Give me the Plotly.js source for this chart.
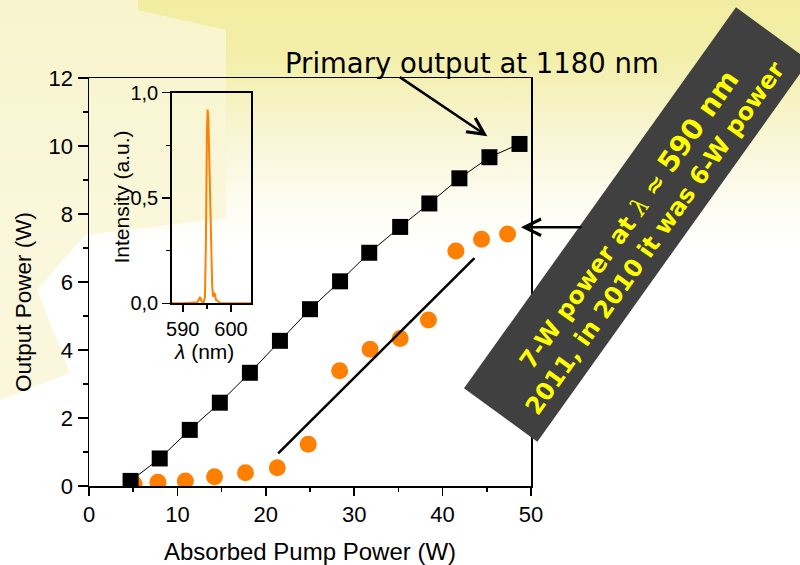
<!DOCTYPE html>
<html>
<head>
<meta charset="utf-8">
<script src="https://cdn.plot.ly/plotly-3.0.1.min.js"></script>
<style>
  html, body { margin: 0; padding: 0; }
  body {
    width: 800px; height: 565px; overflow: hidden;
    background: linear-gradient(to bottom, #f2eda0 0px, #f3efab 60px, #f8f5d2 130px, #fdfcf0 200px, #ffffff 250px, #ffffff 565px);
  }
  #chart { width: 800px; height: 565px; }
</style>
</head>
<body>
<div id="chart"></div>
<script>
// Main chart: primary output at 1180 nm (black squares)
const pumpPrimary = [4.7, 8.0, 11.4, 14.8, 18.2, 21.6, 25.0, 28.4, 31.7, 35.2, 38.5, 41.9, 45.3, 48.7];
const powerPrimary = [0.15, 0.81, 1.65, 2.45, 3.33, 4.27, 5.20, 6.02, 6.86, 7.62, 8.31, 9.05, 9.67, 10.06];

// Yellow output near 590 nm (orange circles)
const pumpYellow = [5.1, 7.8, 10.9, 14.2, 17.7, 21.3, 24.8, 28.35, 31.8, 35.2, 38.4, 41.5, 44.4, 47.35];
const powerYellow = [0.06, 0.11, 0.15, 0.27, 0.39, 0.54, 1.23, 3.39, 4.02, 4.34, 4.88, 6.91, 7.26, 7.41];

// Linear fit line drawn under the orange points
const fitX = [21.4, 43.6];
const fitY = [0.96, 6.70];

// Inset spectrum
const lambdaNm = [587.7, 590.0, 593.0, 593.4, 593.6, 593.9, 594.3, 594.6, 594.8, 595.0, 595.15, 595.3, 595.5, 595.7, 595.9, 596.1, 596.3, 596.5, 596.7, 596.9, 597.3, 597.8, 600.0, 604.15];
const intensity = [0.0, 0.0, 0.005, 0.02, 0.03, 0.01, 0.0, 0.03, 0.30, 0.80, 0.92, 0.88, 0.65, 0.40, 0.20, 0.08, 0.03, 0.05, 0.04, 0.015, 0.01, 0.0, 0.0, 0.0];

// Axis ticks
const xTicks = [0, 10, 20, 30, 40, 50];
const yTicks = [0, 2, 4, 6, 8, 10, 12];
const insetXTicks = [590, 600];
const insetYTicks = [0, 0.5, 1.0];

// Plot area in pixels: left 89, right 531, top 78, bottom 486
const L = 89, R = 531, T = 78, B = 486;
const px = x => (x - L) / (R - L);
const py = y => (B - y) / (B - T);

const ORANGE = '#ff8000';
const FONT = 'Liberation Sans, Arial, sans-serif';

const traces = [
  {
    x: pumpYellow, y: powerYellow, type: 'scatter', mode: 'markers',
    marker: {symbol: 'circle', size: 17, color: ORANGE, line: {width: 0}},
    xaxis: 'x', yaxis: 'y', showlegend: false
  },
  {
    x: pumpPrimary, y: powerPrimary, type: 'scatter', mode: 'lines+markers',
    line: {color: '#000000', width: 1},
    marker: {symbol: 'square', size: 16, color: '#000000', line: {width: 0}},
    xaxis: 'x', yaxis: 'y', showlegend: false
  },
  {
    x: fitX, y: fitY, type: 'scatter', mode: 'lines',
    line: {color: '#000000', width: 2.5},
    xaxis: 'x', yaxis: 'y', showlegend: false
  },
  {
    x: lambdaNm, y: intensity, type: 'scatter', mode: 'lines',
    line: {color: ORANGE, width: 2},
    xaxis: 'x2', yaxis: 'y2', showlegend: false
  }
];

const bannerPts = [[464, 388.3], [736, 7.3], [809.3, 60.7], [537.3, 441.7]];
const bannerPath = 'M' + bannerPts.map(p => px(p[0]).toFixed(4) + ',' + py(p[1]).toFixed(4)).join(' L') + ' Z';

const creamPts = [[0, 0], [138, 0], [138, 10], [226, 30], [226, 218], [85, 235], [37, 290], [70, 373], [0, 400]];
const creamPath = 'M' + creamPts.map(p => px(p[0]).toFixed(4) + ',' + py(p[1]).toFixed(4)).join(' L') + ' Z';

const layout = {
  width: 800, height: 565,
  margin: {l: L, r: 800 - R, t: T, b: 565 - B, pad: 0},
  paper_bgcolor: 'rgba(0,0,0,0)',
  plot_bgcolor: 'rgba(0,0,0,0)',
  separators: ', ',
  font: {family: FONT, color: '#000000'},
  showlegend: false,
  xaxis: {
    range: [0, 50], tickvals: xTicks, ticktext: xTicks.map(String),
    ticks: 'outside', ticklen: 8, tickwidth: 1.5, tickcolor: '#000',
    minor: {ticks: 'outside', ticklen: 4, tickwidth: 1.5, dtick: 5, tickcolor: '#000', showgrid: false},
    showline: true, linecolor: '#000', linewidth: 1.5, mirror: true,
    showgrid: false, zeroline: false,
    tickfont: {family: FONT, size: 22, color: '#000'},
    title: {text: 'Absorbed Pump Power (W)', font: {family: FONT, size: 24, color: '#000'}, standoff: 20}
  },
  yaxis: {
    range: [0, 12], tickvals: yTicks, ticktext: yTicks.map(String),
    ticks: 'outside', ticklen: 10, tickwidth: 1.5, tickcolor: '#000',
    minor: {ticks: 'outside', ticklen: 5, tickwidth: 1.5, dtick: 1, tickcolor: '#000', showgrid: false},
    showline: true, linecolor: '#000', linewidth: 1.5, mirror: true,
    showgrid: false, zeroline: false,
    tickfont: {family: FONT, size: 22, color: '#000'}
  },
  xaxis2: {
    domain: [px(171.7), px(251)], anchor: 'y2',
    range: [587.7, 604.15], tickvals: insetXTicks, ticktext: insetXTicks.map(String),
    ticks: 'outside', ticklen: 7, tickwidth: 1.5, tickcolor: '#000',
    minor: {ticks: 'outside', ticklen: 4, tickwidth: 1.5, dtick: 5, tick0: 590, tickcolor: '#000', showgrid: false},
    showline: true, linecolor: '#000', linewidth: 1.5, mirror: true,
    showgrid: false, zeroline: false,
    tickfont: {family: FONT, size: 20, color: '#000'}
  },
  yaxis2: {
    domain: [py(303.3), py(92.7)], anchor: 'x2',
    range: [0, 1.0], tickvals: insetYTicks, tickformat: '.1f',
    ticks: 'outside', ticklen: 8, tickwidth: 1.5, tickcolor: '#000',
    minor: {ticks: 'outside', ticklen: 4, tickwidth: 1.5, dtick: 0.25, tickcolor: '#000', showgrid: false},
    showline: true, linecolor: '#000', linewidth: 1.5, mirror: true,
    showgrid: false, zeroline: false,
    tickfont: {family: FONT, size: 20, color: '#000'}
  },
  shapes: [
    {type: 'path', xref: 'paper', yref: 'paper', path: creamPath,
     fillcolor: 'rgba(249,246,214,0.85)', line: {width: 0}, layer: 'below'},
    {type: 'path', xref: 'paper', yref: 'paper', path: bannerPath,
     fillcolor: '#404040', line: {width: 0}, layer: 'above'}
  ],
  annotations: [
    {
      xref: 'paper', yref: 'paper', x: px(23), y: py(302),
      text: 'Output Power (W)', showarrow: false, textangle: -90,
      xanchor: 'center', yanchor: 'middle',
      font: {family: FONT, size: 22.5, color: '#000'}
    },
    {
      xref: 'paper', yref: 'paper', x: px(121), y: py(197.5),
      text: 'Intensity (a.u.)', showarrow: false, textangle: -90,
      xanchor: 'center', yanchor: 'middle',
      font: {family: FONT, size: 21, color: '#000'}
    },
    {
      xref: 'paper', yref: 'paper', x: px(204), y: py(351),
      text: '<i>λ</i> (nm)', showarrow: false,
      xanchor: 'center', yanchor: 'middle',
      font: {family: FONT, size: 21, color: '#000'}
    },
    {
      xref: 'paper', yref: 'paper', x: px(471.5), y: py(63),
      text: 'Primary output at 1180 nm', showarrow: false,
      xanchor: 'center', yanchor: 'middle',
      font: {family: 'DejaVu Sans, sans-serif', size: 27.5, color: '#000'}
    },
    {
      xref: 'x', yref: 'y', x: 45.06, y: 10.29, text: '',
      showarrow: true, arrowhead: 5, arrowsize: 1.3, arrowwidth: 2.5, arrowcolor: '#000',
      ax: -89, ay: -60, standoff: 0
    },
    {
      xref: 'x', yref: 'y', x: 48.86, y: 7.61, text: '',
      showarrow: true, arrowhead: 5, arrowsize: 1.3, arrowwidth: 2.5, arrowcolor: '#000',
      ax: 62, ay: 0, standoff: 0
    },
    {
      xref: 'paper', yref: 'paper', x: px(640), y: py(228),
      text: '7-W power at <span style="font-family:\'DejaVu Serif\';font-weight:normal;font-style:italic">λ</span> ≈ <span style="font-size:28px">590 nm</span><br>2011, in 2010 it was 6-W power',
      showarrow: false, textangle: -54.5,
      xanchor: 'center', yanchor: 'middle',
      font: {family: 'DejaVu Sans, sans-serif', size: 24, color: '#ffff00', weight: 'bold'}
    }
  ]
};

Plotly.newPlot('chart', traces, layout, {displayModeBar: false, staticPlot: true});
</script>
</body>
</html>
